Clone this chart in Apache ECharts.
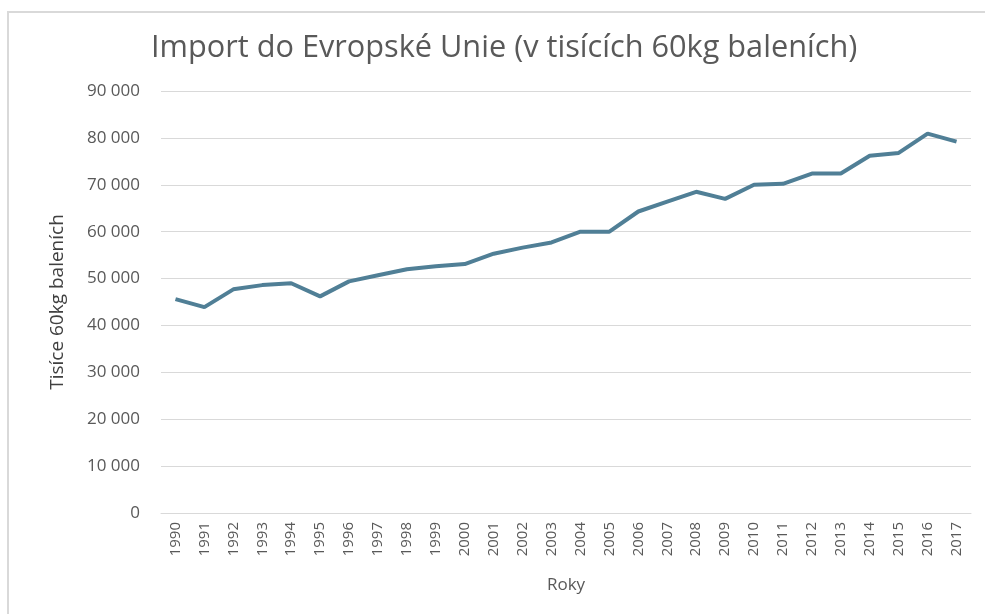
<!DOCTYPE html>
<html>
<head>
<meta charset="utf-8">
<script src="https://cdn.jsdelivr.net/npm/echarts@6/dist/echarts.min.js"></script>
<style>
  html, body { margin: 0; padding: 0; background: #fff; }
  #frame { position: absolute; left: 7px; top: 11px; width: 978px; height: 603px;
           border-top: 2px solid #d9d9d9; border-left: 2px solid #d9d9d9; box-sizing: border-box; }
  #chart { position: absolute; left: 0; top: 0; width: 985px; height: 614px; }
</style>
</head>
<body>
<div id="frame"></div>
<div id="chart"></div>
<script>
// roky a hodnoty (tisíce 60kg balení)
var roky = ['1990','1991','1992','1993','1994','1995','1996','1997','1998','1999',
            '2000','2001','2002','2003','2004','2005','2006','2007','2008','2009',
            '2010','2011','2012','2013','2014','2015','2016','2017'];
var importEU = [45600, 43900, 47700, 48600, 49000, 46200, 49400, 50700, 52000, 52600,
                53100, 55300, 56600, 57700, 60000, 60000, 64300, 66400, 68500, 67000,
                70000, 70200, 72400, 72400, 76200, 76800, 80900, 79200];

var chart = echarts.init(document.getElementById('chart'));

function fmt(v) {
  return String(v).replace(/\B(?=(\d{3})+(?!\d))/g, ' ');
}

var option = {
  animation: false,
  title: {
    text: 'Import do Evropské Unie (v tisících 60kg baleních)',
    left: 146,
    top: 28,
    textStyle: { fontFamily: 'Open Sans', fontSize: 30.7, fontWeight: 'normal', color: '#595959' }
  },
  grid: { left: 161, right: 14, top: 91, bottom: 101 },
  xAxis: {
    type: 'category',
    data: roky,
    name: 'Roky',
    nameLocation: 'middle',
    nameGap: 64,
    nameTextStyle: { fontFamily: 'Open Sans', fontSize: 17, color: '#595959' },
    axisLine: { lineStyle: { color: '#d9d9d9', width: 1 } },
    axisTick: { show: false },
    axisLabel: { rotate: 90, interval: 0, fontFamily: 'Open Sans', fontSize: 15, color: '#595959', margin: 9 }
  },
  yAxis: {
    type: 'value',
    min: 0,
    max: 90000,
    interval: 10000,
    name: 'Tisíce 60kg balení­ch',
    nameLocation: 'middle',
    nameGap: 94,
    nameTextStyle: { fontFamily: 'Open Sans', fontSize: 19, color: '#404040' },
    axisLine: { show: false },
    axisTick: { show: false },
    splitLine: { lineStyle: { color: '#d9d9d9', width: 1 } },
    axisLabel: { formatter: fmt, fontFamily: 'Open Sans', fontSize: 17, color: '#595959', margin: 21 }
  },
  series: [{
    name: 'Import',
    type: 'line',
    data: importEU,
    symbol: 'none',
    lineStyle: { color: '#507f96', width: 4 }
  }]
};
chart.setOption(option);
</script>
</body>
</html>
